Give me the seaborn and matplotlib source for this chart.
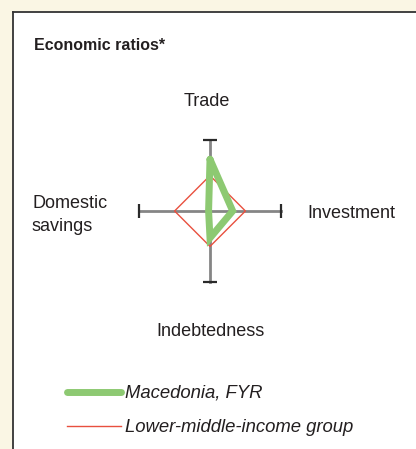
import seaborn as sns
import matplotlib.pyplot as plt
import pandas as pd
import numpy as np

# axes of the spider chart, clockwise from the top
axis_names = ["Trade", "Investment", "Indebtedness", "Domestic savings"]
macedonia = [0.73, 0.32, 0.38, 0.02]
lower_middle = [0.5, 0.5, 0.5, 0.5]
series_names = ["Macedonia, FYR", "Lower-middle-income group"]

angles = np.array([90, 0, -90, 180]) * np.pi / 180


def to_frame(vals, name):
    v = np.array(vals + vals[:1])
    a = np.append(angles, angles[0])
    return pd.DataFrame({"x": v * np.cos(a), "y": v * np.sin(a), "series": name})


W, H = 416, 449
fig = plt.figure(figsize=(W / 100, H / 100), dpi=100)
fig.patch.set_facecolor("#faf6e4")
plt.rcParams["font.family"] = ["Liberation Sans", "DejaVu Sans"]

# white panel with dark edge on the left / top
panel = fig.add_axes([13 / W, 0, 1, 1 - 12 / H])
panel.set_facecolor("white")
panel.set_xticks([])
panel.set_yticks([])
for s in ["right", "bottom"]:
    panel.spines[s].set_visible(False)
for s in ["left", "top"]:
    panel.spines[s].set_color("#333333")
    panel.spines[s].set_linewidth(1.3)

cx, cy, half = 210, 211, 85
ax = fig.add_axes([(cx - half) / W, (H - cy - half) / H, 2 * half / W, 2 * half / H])
ax.set_xlim(-1.2, 1.2)
ax.set_ylim(-1.2, 1.2)
ax.axis("off")

# axis lines with end caps
ax.plot([-1, 1], [0, 0], color="#858585", lw=2, zorder=1)
ax.plot([0, 0], [-1, 1], color="#858585", lw=2, zorder=1)
ax.plot([-1, 1], [0, 0], ls="none", marker="|", ms=10, mew=1.6, color="#2a2a2a")
ax.plot([0, 0], [-1, 1], ls="none", marker="_", ms=10, mew=1.6, color="#2a2a2a")

df_red = to_frame(lower_middle, series_names[1])
df_green = to_frame(macedonia, series_names[0])
sns.lineplot(data=df_red, x="x", y="y", sort=False, estimator=None, color="#e8503f",
             lw=1, ax=ax, label=series_names[1], zorder=2)
sns.lineplot(data=df_green, x="x", y="y", sort=False, estimator=None, color="#8dc972",
             lw=5, ax=ax, label=series_names[0], zorder=3,
             solid_joinstyle="miter", solid_capstyle="round")
ax.get_legend().remove()


def px(x, y):
    return x / W, 1 - y / H


fig.text(*px(34, 45), "Economic ratios*", fontsize=11.5, fontweight="bold",
         color="#231f20", va="center", ha="left")
lab_kw = dict(fontsize=13, color="#231f20", va="center")
fig.text(*px(207, 101), axis_names[0], ha="center", **lab_kw)
fig.text(*px(307, 213), axis_names[1], ha="left", **lab_kw)
fig.text(*px(211, 331), axis_names[2], ha="center", **lab_kw)
fig.text(*px(32, 215), "Domestic\nsavings", ha="left", linespacing=1.5, **lab_kw)

# legend
handles, labels = ax.get_legend_handles_labels()
order = [labels.index(n) for n in series_names]
fig.legend([handles[i] for i in order], [labels[i] for i in order],
           loc="upper left", bbox_to_anchor=px(67, 385), frameon=False,
           prop={"family": "Liberation Sans", "style": "italic", "size": 13.3},
           handlelength=2.9, handletextpad=0.22, labelspacing=0.92,
           borderaxespad=0, borderpad=0, labelcolor="#231f20")

fig.savefig("out.png", dpi=100, facecolor=fig.get_facecolor())
